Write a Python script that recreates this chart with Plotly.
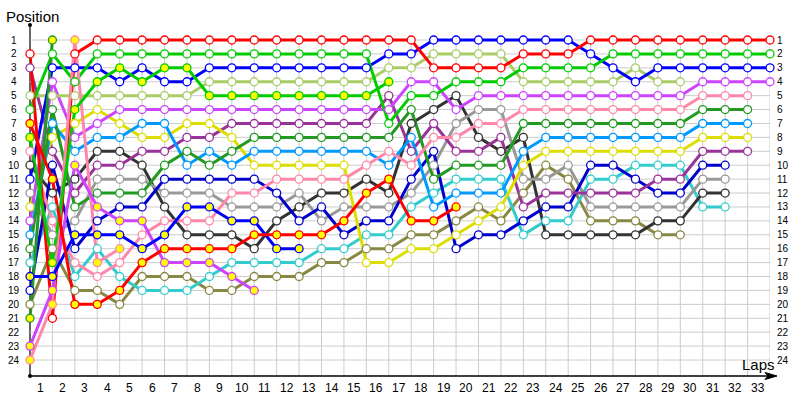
import plotly.graph_objects as go

N = None
laps = list(range(34))
pos_ticks = list(range(1, 25))
lap_ticks = list(range(1, 34))

# positions per lap (lap 0 = grid)
red_w      = [2,21,2,1,1,1,1,1,1,1,1,1,1,1,1,1,1,1,3,3,3,3,2,2,2,1,1,1,1,1,1,1,1,1]
green_w    = [6,2,4,2,2,2,2,2,2,2,2,2,2,2,2,2,7,5,5,4,4,4,3,3,3,3,2,2,2,2,2,2,2,2]
blue_w     = [11,3,3,3,4,3,4,4,3,3,3,3,3,3,3,3,2,2,1,1,1,1,1,1,1,2,3,4,3,3,3,3,3,3]
pale_green = [5,5,5,5,5,5,5,5,4,4,4,4,4,4,4,4,3,3,2,2,2,2,4,4,4,4,4,3,4,4,N,N,N,N]
magenta_w  = [14,4,8,7,6,6,6,6,6,6,6,6,6,6,6,6,6,4,4,6,5,5,5,5,5,5,5,5,5,5,4,4,4,4]
pink_w     = [9,14,17,18,17,15,14,14,14,12,12,11,11,11,11,10,9,10,8,8,7,7,6,6,6,6,6,6,6,6,5,5,5,N]
dark_green = [16,6,13,12,12,12,10,9,10,9,8,8,8,8,8,8,8,6,11,10,10,10,7,7,7,7,7,7,7,7,6,6,6,N]
sky_blue   = [15,7,9,8,8,7,7,10,9,10,9,9,9,9,9,9,10,8,13,12,12,12,9,8,8,8,8,8,8,8,7,7,7,N]
yellow_w   = [13,8,7,6,7,8,8,7,7,8,10,10,10,10,10,17,17,16,16,15,14,13,10,9,9,9,9,9,9,9,8,8,8,N]
purple     = [3,9,12,10,10,9,9,8,8,7,7,7,7,7,7,7,5,9,7,9,9,8,13,12,12,12,12,12,11,11,9,9,9,N]
dark_blue  = [19,10,16,14,13,13,11,11,11,11,11,12,14,13,15,14,14,11,9,16,15,15,14,13,13,10,10,11,12,12,10,10,N,N]
gray       = [12,15,14,11,11,11,12,12,12,13,13,13,12,14,13,13,13,12,10,7,6,6,11,11,10,13,13,13,13,13,11,11,N,N]
black      = [10,12,11,9,9,10,13,15,15,15,16,14,13,12,12,11,12,7,6,5,8,9,8,15,15,15,15,15,14,14,12,12,N,N]
cyan       = [17,13,18,16,18,19,19,19,18,17,17,17,17,16,16,15,15,13,12,11,11,11,15,14,14,11,11,10,10,10,13,13,N,N]
olive      = [20,16,19,19,20,18,18,18,19,19,18,18,18,17,17,16,16,15,15,14,13,14,12,10,11,14,14,14,15,15,N,N,N,N]
red_y      = [7,11,20,20,19,17,16,16,16,16,15,15,15,15,14,12,11,14,14,13]
green_y    = [8,17,6,4,3,4,3,3,5,5,5,5,5,5,5,5,4]
blue_y     = [18,18,15,15,15,16,15,13,13,14,14,16,16]
magenta_y  = [23,19,10,13,14,14,17,17,17,18,19]
pink_y     = [24,20,1,17,16]
dkgreen_y  = [21,1]

W, Y = "white", "#FFFF00"
drivers = [
    (olive, "#888844", W), (cyan, "#33CCCC", W), (black, "#333333", W),
    (gray, "#999999", W), (dark_blue, "#0000CC", W), (purple, "#993399", W),
    (yellow_w, "#DDDD00", W), (sky_blue, "#0099FF", W), (dark_green, "#229922", W),
    (pink_w, "#FF88AA", W), (magenta_w, "#CC44FF", W), (pale_green, "#AACC66", W),
    (blue_w, "#0000FF", W), (green_w, "#00CC00", W), (red_w, "#FF0000", W),
    (dkgreen_y, "#229922", Y), (pink_y, "#FF88AA", Y), (magenta_y, "#CC44FF", Y),
    (blue_y, "#0000FF", Y), (green_y, "#00CC00", Y), (red_y, "#FF0000", Y),
]

fig = go.Figure()
for data, col, fill in drivers:
    fig.add_trace(go.Scatter(x=laps[:len(data)], y=data, mode="lines",
                             line=dict(color=col, width=3), cliponaxis=False,
                             hoverinfo="skip", showlegend=False))
for data, col, fill in drivers:
    fig.add_trace(go.Scatter(x=laps[:len(data)], y=data, mode="markers",
                             marker=dict(size=8, color=fill, line=dict(color=col, width=1.3)),
                             cliponaxis=False, hoverinfo="skip", showlegend=False))

Y_BOTTOM = 25.15
Y_TOP = -0.078
shapes = []
for k in lap_ticks:
    shapes.append(dict(type="line", xref="x", yref="y", x0=k, x1=k, y0=1, y1=Y_BOTTOM,
                       line=dict(color="#CCCCCC", width=1), layer="below"))
for p in pos_ticks:
    shapes.append(dict(type="line", xref="x", yref="y", x0=0, x1=33, y0=p, y1=p,
                       line=dict(color="#CCCCCC", width=1), layer="below"))
# axes
PW, PH = 740.0, 351.0
shapes.append(dict(type="line", xref="paper", yref="paper", x0=0, x1=0, y0=0, y1=1,
                   line=dict(color="black", width=1.2), layer="below"))
tip = (777 - 30) / PW
shapes.append(dict(type="line", xref="paper", yref="paper", x0=0, x1=tip - 4 / PW, y0=0, y1=0,
                   line=dict(color="black", width=1.5)))
bx = (765 - 30) / PW
hy = 3.5 / PH
shapes.append(dict(type="path", xref="paper", yref="paper",
                   path=f"M {tip},0 L {bx},{hy} L {bx + 3/PW},0 L {bx},{-hy} Z",
                   fillcolor="black", line=dict(color="black", width=1)))
for yy in (0, 1):
    shapes.append(dict(type="circle", xref="paper", yref="paper",
                       x0=-2 / PW, x1=2 / PW, y0=yy - 2 / PH, y1=yy + 2 / PH,
                       fillcolor="black", line=dict(color="black", width=0)))

ann = []
for p in pos_ticks:
    ann.append(dict(x=-16 / PW, xref="paper", y=p, yref="y", text=str(p), showarrow=False,
                    xanchor="center", yanchor="middle",
                    font=dict(family="Liberation Sans, Arial", size=10, color="black")))
    ann.append(dict(x=(775 - 30) / PW, xref="paper", y=p, yref="y", text=str(p), showarrow=False,
                    xanchor="left", yanchor="middle",
                    font=dict(family="Liberation Sans, Arial", size=10, color="black")))
for k in lap_ticks:
    ann.append(dict(x=k - 0.55, xref="x", y=-12 / PH, yref="paper", text=str(k), showarrow=False,
                    xanchor="center", yanchor="middle",
                    font=dict(family="Liberation Sans, Arial", size=12, color="black")))
ann.append(dict(x=-26 / PW, xref="paper", y=1 + 9 / PH, yref="paper", text="Position",
                showarrow=False, xanchor="left", yanchor="middle",
                font=dict(family="Liberation Sans, Arial", size=15, color="black")))
ann.append(dict(x=(758 - 30) / PW, xref="paper", y=12 / PH, yref="paper", text="Laps",
                showarrow=False, xanchor="center", yanchor="middle",
                font=dict(family="Liberation Sans, Arial", size=15, color="black")))

fig.update_layout(
    width=800, height=400, margin=dict(l=30, r=30, t=25, b=24, autoexpand=False),
    paper_bgcolor="white", plot_bgcolor="white",
    xaxis=dict(range=[0, 33], showgrid=False, zeroline=False, showticklabels=False,
               showline=False, fixedrange=True),
    yaxis=dict(range=[Y_BOTTOM, Y_TOP], showgrid=False, zeroline=False, showticklabels=False,
               showline=False, fixedrange=True),
    shapes=shapes, annotations=ann, showlegend=False,
)
fig.write_html("out.html", config={"displayModeBar": False, "staticPlot": True},
               post_script="document.body.style.margin='0';document.body.style.overflow='hidden';")
